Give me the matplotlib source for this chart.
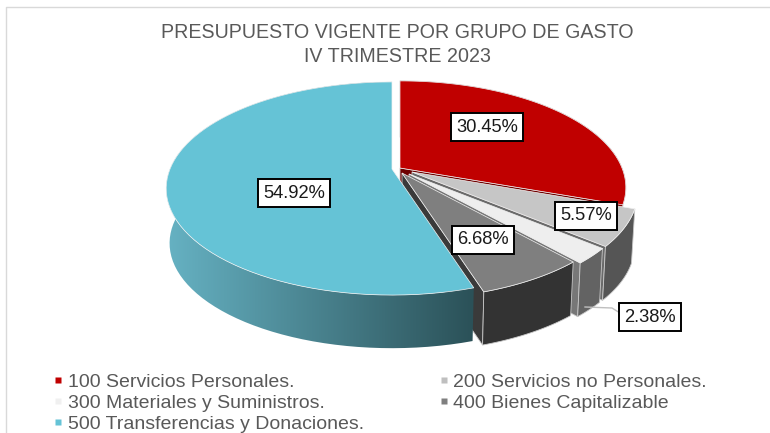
import numpy as np
import matplotlib
matplotlib.use("Agg")
import matplotlib.pyplot as plt
from matplotlib.colors import LinearSegmentedColormap
from matplotlib.lines import Line2D
from matplotlib.patches import Polygon

# ----------------------------
# Data
# ----------------------------
categories = [
    "100 Servicios Personales.", "200 Servicios no Personales.",
    "300 Materiales y Suministros.", "400 Bienes Capitalizable",
    "500 Transferencias y Donaciones."
]
shares = [30.45, 5.57, 2.38, 6.68, 54.92]
title_lines = ["PRESUPUESTO VIGENTE POR GRUPO DE GASTO", "IV TRIMESTRE 2023"]

# ----------------------------
# Style and layout (pixels)
# ----------------------------
plt.rcParams["font.family"] = ["Liberation Sans", "DejaVu Sans"]

top_colors = ["#C00000", "#C6C6C6", "#EEEEEE", "#7F7F7F", "#65C3D6"]
legend_colors = ["#C00000", "#BFBFBF", "#F0F0F0", "#7F7F7F", "#65C3D6"]
side_colors = ["#7A0000", "#555555", "#636363", "#333333", "#4C8A98"]
face_colors = ["#6E0000", "#6A6A6A", "#777777", "#3A3A3A", "#2F535A"]
apexes = [(400, 168), (412, 172), (409, 174), (402, 173), (392, 169)]
label_xy = [(487, 127), (586, 216), (650, 317), (483, 240), (294, 193)]

RX, RY, PERSP = 222, 103, 0.183
DEPTH, SHRINK = 55, 0.985
TEXT = "#595959"


def rim(apex, deg, bottom=False):
    # deg runs clockwise from 12 o'clock, v points to the viewer
    a = np.radians(deg)
    u, v = np.sin(a), -np.cos(a)
    s = 1 / (1 - PERSP * v)
    k = SHRINK if bottom else 1.0
    x = apex[0] + k * RX * u * s
    y = apex[1] + k * RY * v * s + (DEPTH if bottom else 0)
    return np.column_stack([x, y])


def centre(apex, bottom=False):
    if bottom:
        return np.array([[apex[0], apex[1] + DEPTH]])
    return np.array([apex])


fig = plt.figure(figsize=(7.7, 4.33), dpi=100)
ax = fig.add_axes([0, 0, 1, 1])

# chart frame: only top and left show in the crop
ax.add_line(Line2D([6, 6, 770], [433, 7, 7], color="#D9D9D9", lw=1.0))

edges = np.concatenate([[0], np.cumsum(shares)]) * 360 / sum(shares)

# slices are painted back to front, blue last
z = 1.0
last = len(shares) - 1
for i in range(len(shares)):
    apex = apexes[i]
    deg = np.linspace(edges[i], edges[i + 1], 80)
    top_arc = rim(apex, deg)
    bot_arc = rim(apex, deg, bottom=True)

    # radial face on the clockwise end of the slice (blue's looks away)
    if i != last:
        end = deg[-1:]
        face = np.vstack([centre(apex), rim(apex, end), rim(apex, end, True),
                          centre(apex, True)])
        ax.add_patch(Polygon(face, fc=face_colors[i], ec="#C8C8C8", lw=0.6, zorder=z))
    z += 0.01

    # outer wall
    wall = np.vstack([top_arc, bot_arc[::-1]])
    if i == last:
        cmap = LinearSegmentedColormap.from_list("wall", ["#66B2C3", "#2B5158"])
        grad = np.linspace(0, 1, 256).reshape(1, -1)
        im = ax.imshow(grad, cmap=cmap, aspect="auto", zorder=z,
                       extent=[wall[:, 0].min(), top_arc[0, 0], 433, 0])
        clip = Polygon(wall, fc="none", ec="none", transform=ax.transData)
        ax.add_patch(clip)
        im.set_clip_path(clip)
    else:
        ax.add_patch(Polygon(wall, fc=side_colors[i], ec="#C8C8C8", lw=0.6, zorder=z))
    z += 0.01

    # top of the slice
    top = np.vstack([centre(apex), top_arc])
    ax.add_patch(Polygon(top, fc=top_colors[i], ec="#F2F2F2", lw=0.5, zorder=z))
    z += 0.01

# leader line for the small slice
ax.add_line(Line2D([585, 612, 620], [307, 308, 313], color="#BFBFBF", lw=1.0, zorder=3))

# data labels
for v, (x, y) in zip(shares, label_xy):
    ax.text(x, y, f"{v:.2f}%", ha="center", va="center", fontsize=13.2,
            color="#1A1A1A", zorder=4,
            bbox=dict(boxstyle="square,pad=0.28", fc="white", ec="black", lw=1.4))

# title
ax.text(397, 33, title_lines[0], ha="center", va="center", fontsize=14.1, color=TEXT)
ax.text(397, 57, title_lines[1], ha="center", va="center", fontsize=14.1, color=TEXT)

# legend, filled column by column
order = [0, 2, 4, 1, 3]
handles = [Line2D([], [], ls="", marker="s", ms=5, mfc=legend_colors[i], mec="none")
           for i in order]
ax.legend(handles, [categories[i] for i in order], ncol=2, frameon=False,
          loc="upper left", bbox_to_anchor=(55, 373), bbox_transform=ax.transData,
          fontsize=14, labelcolor=TEXT, handlelength=0.35, handletextpad=0.33,
          columnspacing=3.9, labelspacing=0.18, borderpad=0, borderaxespad=0)

ax.set_xlim(0, 770)
ax.set_ylim(433, 0)
ax.axis("off")

fig.savefig("out.png", dpi=100)
